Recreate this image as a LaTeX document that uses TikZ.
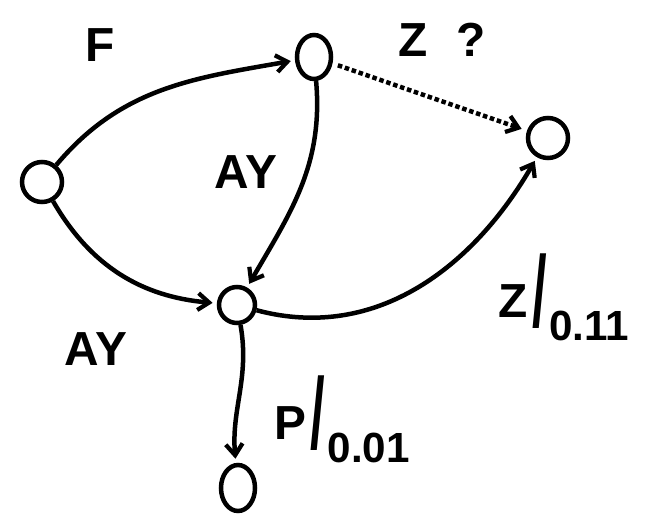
\documentclass[tikz,border=0pt]{standalone}
\usepackage{fontspec}
\setmainfont{Liberation Sans}
\usepackage{graphicx}
\usetikzlibrary{arrows.meta,shapes.geometric}

\newcommand{\slashlbl}[2]{\raisebox{6pt}{#1}\hspace{3pt}\scalebox{1.1}[2.1]{/}\hspace{2pt}\raisebox{-10pt}{\fontsize{30}{32}\selectfont #2}}

\begin{document}
\begin{tikzpicture}[
  >={Straight Barb[length=8pt,width=12pt,line width=3pt]},
  state/.style={ellipse, draw, line width=3.2pt, inner sep=0pt, minimum width=9mm, minimum height=10mm},
  lbl/.style={font=\fontsize{34}{36}\selectfont\bfseries, inner sep=0pt},
  trans/.style={->, line width=3.2pt, shorten >=3pt},
  guess/.style={->, line width=3.2pt, dotted, shorten <=4pt, shorten >=4pt},
]
\useasboundingbox (0,0) rectangle (16.2,12.925);

% states
\node[state,minimum width=10mm,minimum height=10mm] (l) at (1.05,8.375) {};
\node[state,minimum width=8.5mm,minimum height=11mm] (t) at (7.85,11.5) {};
\node[state,minimum width=10mm,minimum height=10mm] (r) at (13.7,9.475) {};
\node[state,minimum width=9mm,minimum height=9mm] (m) at (5.925,5.3) {};
\node[state,minimum width=8.5mm,minimum height=11.5mm] (b) at (5.95,0.725) {};

% transitions
\draw[trans] (l) to[out=50,in=190] (t);
\draw[trans] (t) to[out=-85,in=60] (m);
\draw[trans] (l) to[out=-60,in=175] (m);
\draw[trans] (m) to[out=-15,in=-120] (r);
\draw[trans] (m) to[out=-80,in=95] (b);
\draw[guess] (t) -- (r);

% labels
\node[lbl] (f) at (2.5,11.8) {F};
\node[lbl] (zq) at (11.05,11.925) {Z\hspace{20pt}?};
\node[lbl] (ay1) at (6.15,8.625) {AY};
\node[lbl] (ay2) at (2.4,4.2) {AY};
\node[lbl] (zp) at (14.1,5.5) {\slashlbl{Z}{0.11}};
\node[lbl] (pp) at (8.55,2.45) {\slashlbl{P}{0.01}};
\end{tikzpicture}
\end{document}
